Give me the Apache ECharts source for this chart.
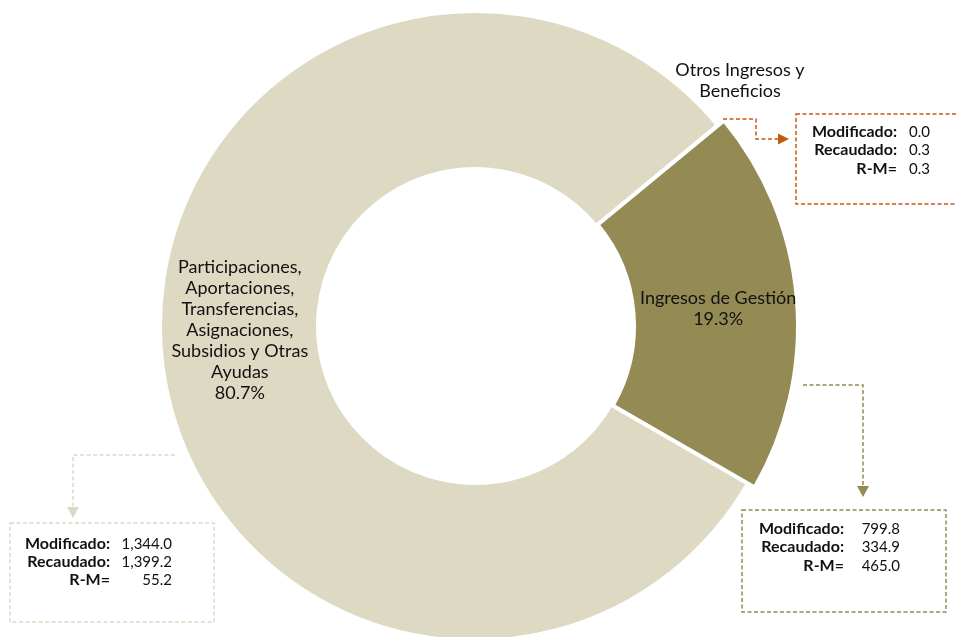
<!DOCTYPE html>
<html><head><meta charset="utf-8">
<script src="https://cdn.jsdelivr.net/npm/echarts@6/dist/echarts.min.js"></script>
<style>html,body{margin:0;padding:0;background:#fff}#c{width:956px;height:637px}</style>
</head><body><div id="c"></div>
<script>
// ---- data ----
const categories = ['Otros Ingresos y Beneficios', 'Ingresos de Gestión', 'Participaciones, Aportaciones, Transferencias, Asignaciones, Subsidios y Otras Ayudas'];
const labelText = ['Otros Ingresos y\nBeneficios', 'Ingresos de Gestión', 'Participaciones,\nAportaciones,\nTransferencias,\nAsignaciones,\nSubsidios y Otras\nAyudas'];
const modificado = [0.0, 799.8, 1344.0];
const recaudado = [0.3, 334.9, 1399.2];
const rm = [0.3, 465.0, 55.2];
const rowLabels = ['Modificado:', 'Recaudado:', 'R-M='];

// ---- styles / layout ----
const colors = ['#C55A11', '#948A54', '#DDD9C3'];
const FONT = 'Lato, "Noto Sans", sans-serif';
const TXT = '#111';
const center = [475, 326];
const callouts = [
  {i:0, box:[796,114,200,90], path:[[723,119],[756,119],[756,139],[778,139]], tip:[789,139], dir:'right', labelX:897, valueX:930, rows:[132,150,169]},
  {i:1, box:[742,510,204,102], path:[[803,385],[863,385],[863,486]], tip:[863,497], dir:'down', labelX:844, valueX:900, rows:[529,547,566]},
  {i:2, box:[10,523,204,99], path:[[175,455],[73,455],[73,507]], tip:[73,518], dir:'down', labelX:110, valueX:172, rows:[544,562,580]}
];
const fmt = v => v.toLocaleString('en-US', {minimumFractionDigits:1, maximumFractionDigits:1});

const baseData = categories.map((n, i) => ({
  name: n, value: recaudado[i],
  itemStyle: i === 1 ? {color:'rgba(0,0,0,0)', borderWidth:0} : {color: colors[i], borderColor:'#fff', borderWidth:4},
  label: i === 1 ? {show:false} : (i === 0 ? {show:true, position:'outside'} : {show:true, position:'inside'}),
  labelLine: {show:false}
}));
const darkData = categories.map((n, i) => ({
  name: n, value: recaudado[i],
  itemStyle: i === 1 ? {color: colors[i], borderColor:'#fff', borderWidth:4} : {color:'rgba(0,0,0,0)', borderWidth:0},
  label: {show: i === 1, position:'inside'},
  labelLine: {show:false}
}));

const graphic = [];
callouts.forEach(c => {
  const col = colors[c.i];
  graphic.push({type:'rect', shape:{x:c.box[0], y:c.box[1], width:c.box[2], height:c.box[3]},
    style:{fill:'#fff', stroke:col, lineWidth:1.5, lineDash:[4,2.5]}, z:10});
  graphic.push({type:'polyline', shape:{points:c.path}, style:{fill:null, stroke:col, lineWidth:1.5, lineDash:[4,2.5]}, z:10});
  const [tx, ty] = c.tip;
  const pts = c.dir === 'right' ? [[tx-11,ty-5.5],[tx,ty],[tx-11,ty+5.5]] : [[tx-6,ty-11],[tx,ty],[tx+6,ty-11]];
  graphic.push({type:'polygon', shape:{points:pts}, style:{fill:col}, z:10});
  const vals = [modificado[c.i], recaudado[c.i], rm[c.i]];
  rowLabels.forEach((t, r) => {
    graphic.push({type:'text', x:c.labelX, y:c.rows[r], z:11,
      style:{text:t, font:'bold 16px ' + FONT, fill:TXT, align:'right', verticalAlign:'middle'}});
    graphic.push({type:'text', x:c.valueX, y:c.rows[r], z:11,
      style:{text:fmt(vals[r]), font:'15px ' + FONT, fill:TXT, align:'right', verticalAlign:'middle'}});
  });
});

const chart = echarts.init(document.getElementById('c'), null, {renderer:'canvas'});
chart.setOption({
  animation:false,
  backgroundColor:'#fff',
  graphic: graphic,
  series: [
    {
      type:'pie', center:center, radius:[157, 315], startAngle:39.6, clockwise:true,
      percentPrecision:1, avoidLabelOverlap:false, silent:true,
      label:{fontFamily:FONT, fontSize:18, color:TXT, lineHeight:21, align:'center',
        formatter: p => p.dataIndex === 0 ? labelText[0] : labelText[p.dataIndex] + '\n' + p.percent.toFixed(1) + '%'},
      labelLayout: p => {
        if (p.dataIndex === 0) return {x:740, y:81, align:'center', verticalAlign:'middle'};
        if (p.dataIndex === 2) return {dx:3, dy:-16};
        return {};
      },
      data: baseData
    },
    {
      type:'pie', center:center, radius:[159, 323], startAngle:39.6, clockwise:true,
      percentPrecision:1, avoidLabelOverlap:false, silent:true,
      label:{fontFamily:FONT, fontSize:18, color:TXT, lineHeight:21, align:'center',
        formatter: p => labelText[p.dataIndex] + '\n' + p.percent.toFixed(1) + '%'},
      labelLayout: p => ({dy:3}),
      data: darkData
    }
  ]
});
</script></body></html>
